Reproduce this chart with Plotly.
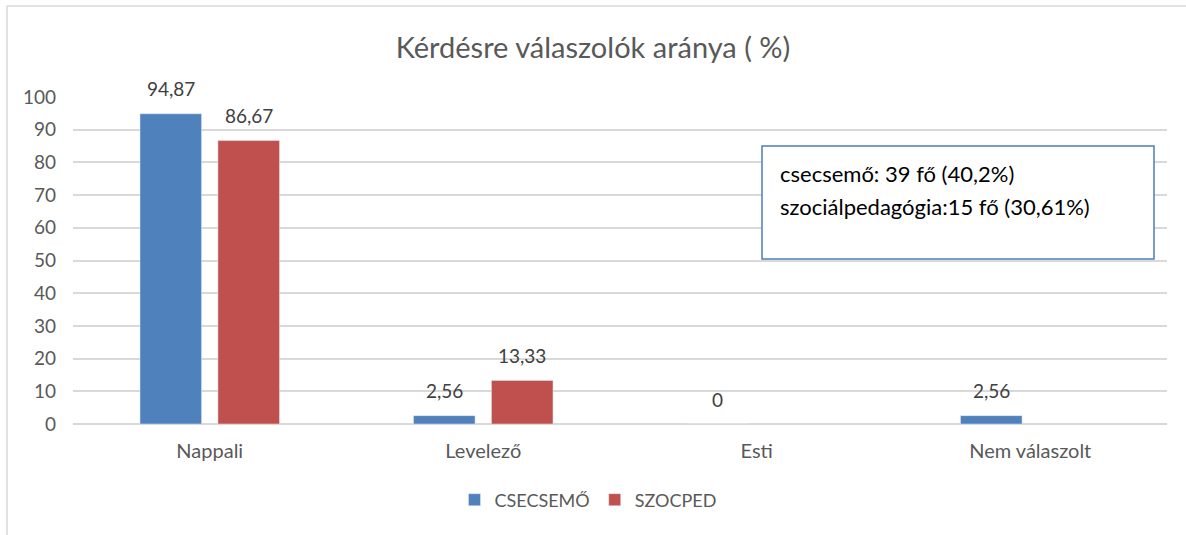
import plotly.graph_objects as go

categories = ["Nappali", "Levelező", "Esti", "Nem válaszolt"]
csecsemo = [94.87, 2.56, 0, 2.56]
szocped = [86.67, 13.33, None, None]
series_names = ["CSECSEMŐ", "SZOCPED"]
colors = ["#4F81BD", "#C0504D"]
title_text = "Kérdésre válaszolók aránya ( %)"
note_lines = ["csecsemő: 39 fő (40,2%)", "szociálpedagógia:15 fő (30,61%)"]
y_ticks = list(range(0, 101, 10))

W, H = 1186, 535
L, R, T, B = 73, 19, 97, 111
pw, ph = W - L - R, H - T - B
BARGAP, GROUPGAP = 0.43, 0.21

def fmt(v):
    return ("%g" % v).replace(".", ",")

font_family = "Lato, 'Open Sans', sans-serif"

fig = go.Figure()
for name, vals, col in zip(series_names, [csecsemo, szocped], colors):
    fig.add_trace(go.Bar(x=categories, y=vals, name=name, marker_color=col))

# data labels placed above each bar (centre of each bar slot)
cat_px = pw / len(categories)
slot_px = cat_px * (1 - BARGAP) / len(series_names)
for i, vals in enumerate([csecsemo, szocped]):
    xs = (i - (len(series_names) - 1) / 2) * slot_px
    for c, v in zip(categories, vals):
        if v is None:
            continue
        fig.add_annotation(x=c, y=v, xref="x", yref="y", text=fmt(v), showarrow=False,
                           xshift=xs, yshift=25, yanchor="middle", xanchor="center",
                           font=dict(size=19, color="#404040", family=font_family))

fig.update_layout(
    width=W, height=H,
    margin=dict(l=L, r=R, t=T, b=B),
    paper_bgcolor="white", plot_bgcolor="white",
    barmode="group", bargap=BARGAP, bargroupgap=GROUPGAP,
    font=dict(family=font_family, color="#595959", size=19),
    title=dict(text=title_text, x=0.5, xanchor="center", y=1 - 48 / H, yanchor="middle",
               font=dict(size=29, color="#595959", family=font_family)),
    xaxis=dict(showgrid=False, showline=False, ticks="", tickfont=dict(size=20, color="#595959"),
               ticklabelstandoff=13),
    yaxis=dict(range=[0, 100], tickvals=y_ticks, showgrid=True, gridcolor="#D9D9D9", gridwidth=2,
               zeroline=True, zerolinecolor="#D9D9D9", zerolinewidth=2,
               ticks="", tickfont=dict(size=19, color="#595959"), ticklabelstandoff=16),
    legend=dict(orientation="h", x=(588 - L) / pw, xanchor="center", y=-(500 - (H - B)) / ph, yanchor="middle",
                font=dict(size=18, color="#595959"), itemwidth=30, traceorder="normal"),
    showlegend=True,
)

def px2x(px):
    return (px - L) / pw

def px2y(py):
    return (H - B - py) / ph

# outer chart border (top and left edges visible)
fig.add_shape(type="line", xref="paper", yref="paper", x0=px2x(7), x1=px2x(1186), y0=px2y(6), y1=px2y(6),
              line=dict(color="#D9D9D9", width=1.5))
fig.add_shape(type="line", xref="paper", yref="paper", x0=px2x(7), x1=px2x(7), y0=px2y(6), y1=px2y(535),
              line=dict(color="#D9D9D9", width=1.5))

# text box
fig.add_shape(type="rect", xref="paper", yref="paper", x0=px2x(762), x1=px2x(1154), y0=px2y(146), y1=px2y(259),
              line=dict(color="#4A7EBB", width=1.5), fillcolor="white", layer="above")
for k, line in enumerate(note_lines):
    fig.add_annotation(xref="paper", yref="paper", x=px2x(778), y=px2y(173 + 33 * k), xanchor="left",
                       yanchor="middle", text=line, showarrow=False, align="left",
                       font=dict(size=22, color="#000000", family=font_family))

fig.write_html("out.html", config={"displayModeBar": False},
               post_script="document.body.style.margin='0';")
